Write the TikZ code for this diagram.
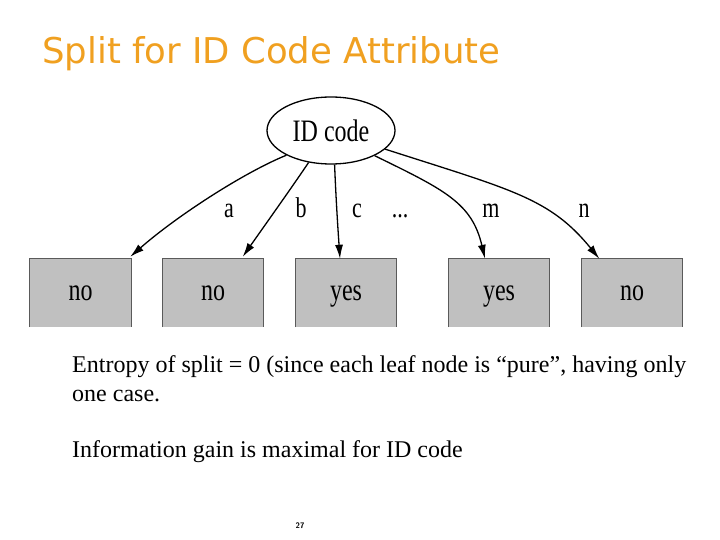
\documentclass[tikz,border=0pt]{standalone}
\usepackage{fontspec}
\setmainfont{Liberation Serif}
\newfontfamily\titlefont{DejaVu Sans}
\usetikzlibrary{shapes.geometric,arrows.meta}
\definecolor{titleorange}{RGB}{240,160,32}
\definecolor{boxgray}{RGB}{192,192,192}
\definecolor{boxedge}{RGB}{90,90,90}
\tikzset{
  x=1pt,y=-1pt,
  leaf/.style={fill=boxgray,draw=none,minimum width=101pt,minimum height=68pt,inner sep=0pt,text height=19pt,text depth=5pt},
  treetxt/.style={font=\fontsize{24}{24}\selectfont},
  edge/.style={line width=1.3pt,-{Latex[length=14pt,width=8pt]}},
  elabel/.style={font=\fontsize{22}{22}\selectfont,inner sep=0pt,anchor=base},
  bodytxt/.style={font=\fontsize{24}{29}\selectfont,anchor=base west,inner sep=0pt,align=left}
}
\newcommand{\tall}[1]{\scalebox{1}[1.3]{#1}}
\begin{document}
\begin{tikzpicture}
\useasboundingbox (0,0) rectangle (720,540);
\fill[white] (0,0) rectangle (720,540);
\node[anchor=base west,inner sep=0pt,text=titleorange,font=\titlefont\fontsize{35.5}{35.5}\selectfont] (title) at (42,64) {Split for ID Code Attribute};
\node[ellipse,draw,line width=1.3pt,minimum width=128pt,minimum height=67pt,inner sep=0pt,treetxt] (root) at (331,130.5) {\tall{ID code}};
\node[leaf,treetxt] (b1) at (80.5,293) {\tall{no}};
\node[leaf,treetxt] (b2) at (213,293) {\tall{no}};
\node[leaf,treetxt] (b3) at (346,293) {\tall{yes}};
\node[leaf,treetxt] (b4) at (499,293) {\tall{yes}};
\node[leaf,treetxt] (b5) at (632,293) {\tall{no}};
\foreach \b in {b1,b2,b3,b4,b5}{
  \draw[boxedge,line width=0.8pt] (\b.south west) -- (\b.north west) -- (\b.north east) -- (\b.south east);
}
\coordinate (t1) at ([xshift=-1pt,yshift=2pt]b1.north east);
\coordinate (t2) at ([xshift=-21pt,yshift=2pt]b2.north east);
\coordinate (t3) at ([xshift=-6pt]b3.north);
\coordinate (t4) at ([xshift=-14pt]b4.north);
\coordinate (t5) at ([xshift=18pt]b5.north west);
\draw[edge] (root.-151) .. controls (245,172) and (178,215) .. (t1);
\draw[edge] (root.-125) .. controls (290,190) and (265,225) .. (t2);
\draw[edge] (root.-84) .. controls (336,200) and (338,230) .. (t3);
\draw[edge] (root.-30) .. controls (445,190) and (472,203) .. (t4);
\draw[edge] (root.-19) .. controls (512,190) and (550,198) .. (t5);
\node[elabel] (la) at (229,218) {\tall{a}};
\node[elabel] (lb) at (301,218) {\tall{b}};
\node[elabel] (lc) at (357,218) {\tall{c}};
\node[elabel] (ld) at (400,218) {\tall{...}};
\node[elabel] (lm) at (491,218) {\tall{m}};
\node[elabel] (ln) at (584,218) {\tall{n}};
\node[bodytxt] (body1) at (72,372) {Entropy of split = 0 (since each leaf node is “pure”, having only};
\node[bodytxt] (body1b) at (72,401) {one case.};
\node[bodytxt] (body2) at (72,457) {Information gain is maximal for ID code};
\node[font=\sffamily\bfseries\fontsize{8}{8}\selectfont,inner sep=0pt] (page) at (300,526) {27};
\end{tikzpicture}
\end{document}
